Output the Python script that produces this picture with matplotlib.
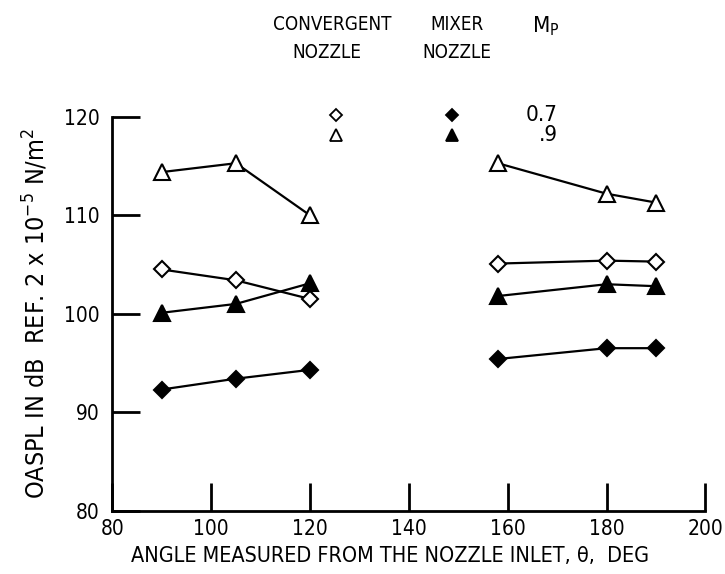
import matplotlib
matplotlib.use('Agg')
import matplotlib.pyplot as plt
from matplotlib import font_manager

# narrow lettering like the original; use condensed DejaVu if present
fp = font_manager.FontProperties(family='DejaVu Sans', stretch='condensed')
if 'Condensed' in font_manager.findfont(fp):
    plt.rcParams['font.family'] = ['DejaVu Sans']
    plt.rcParams['font.stretch'] = 'condensed'
else:
    plt.rcParams['font.family'] = ['Liberation Sans', 'DejaVu Sans']
plt.rcParams['mathtext.default'] = 'regular'

# angle, deg (two arcs: forward and aft)
angle_fwd = [90, 105, 120]
angle_aft = [158, 180, 190]

# OASPL, dB
conv_07_fwd = [104.5, 103.4, 101.5]
conv_07_aft = [105.1, 105.4, 105.3]
conv_09_fwd = [114.4, 115.3, 110.0]
conv_09_aft = [115.3, 112.2, 111.3]
mix_07_fwd = [92.3, 93.4, 94.3]
mix_07_aft = [95.4, 96.5, 96.5]
mix_09_fwd = [100.1, 101.0, 103.1]
mix_09_aft = [101.8, 103.0, 102.8]

x_ticks = [80, 100, 120, 140, 160, 180, 200]
y_ticks = [80, 90, 100, 110, 120]

fig = plt.figure(figsize=(7.25, 5.74), dpi=100)
ax = fig.add_axes([0.155, 0.1106, 0.818, 0.6856])

# (forward, aft, marker, facecolor)
series = [
    (conv_07_fwd, conv_07_aft, 'D', 'white'),
    (conv_09_fwd, conv_09_aft, '^', 'white'),
    (mix_07_fwd, mix_07_aft, 'D', 'black'),
    (mix_09_fwd, mix_09_aft, '^', 'black'),
]
for fwd, aft, mk, fc in series:
    ms = 8.5 if mk == 'D' else 11
    for xs, ys in [(angle_fwd, fwd), (angle_aft, aft)]:
        ax.plot(xs, ys, color='black', lw=1.6, marker=mk, ms=ms,
                mfc=fc, mec='black', mew=1.5, clip_on=False, zorder=3)

ax.set_xlim(80, 200)
ax.set_ylim(80, 120)
ax.set_xticks(x_ticks)
ax.set_yticks(y_ticks)
ax.spines['top'].set_visible(False)
ax.spines['right'].set_visible(False)
for s in ['left', 'bottom']:
    ax.spines[s].set_linewidth(2)
ax.tick_params(direction='in', length=20, width=2, labelsize=15, pad=6)
ax.tick_params(axis='y', pad=9)

ax.set_xlabel('ANGLE MEASURED FROM THE NOZZLE INLET, θ,  DEG', fontsize=15.5)
ax.xaxis.set_label_coords(0.468, -0.09)
ax.set_ylabel(r'OASPL IN dB  REF. 2 x 10$^{-5}$ N/m$^2$', fontsize=18, labelpad=10)

# key
fig.text(332 / 725, 1 - 24 / 574, 'CONVERGENT', ha='center', va='center', fontsize=13.5)
fig.text(327 / 725, 1 - 52 / 574, 'NOZZLE', ha='center', va='center', fontsize=13.5)
fig.text(457 / 725, 1 - 24 / 574, 'MIXER', ha='center', va='center', fontsize=13.5)
fig.text(457 / 725, 1 - 52 / 574, 'NOZZLE', ha='center', va='center', fontsize=13.5)
fig.text(532 / 725, 1 - 26 / 574, r'M$_{P}$', ha='left', va='center', fontsize=16)
fig.text(558 / 725, 1 - 115 / 574, '0.7', ha='right', va='center', fontsize=16)
fig.text(558 / 725, 1 - 135 / 574, '.9', ha='right', va='center', fontsize=16)

key_x = [336 / 725, 452 / 725]
key_y = [1 - 115 / 574, 1 - 135 / 574]
key_mk = [('D', 6.5), ('^', 8.5)]
for j, fc in enumerate(['white', 'black']):
    for i, (mk, ms) in enumerate(key_mk):
        fig.add_artist(plt.Line2D([key_x[j]], [key_y[i]], marker=mk, ms=ms,
                                  mfc=fc, mec='black', mew=1.3, ls='none',
                                  transform=fig.transFigure))

fig.savefig('out.png', dpi=100)
